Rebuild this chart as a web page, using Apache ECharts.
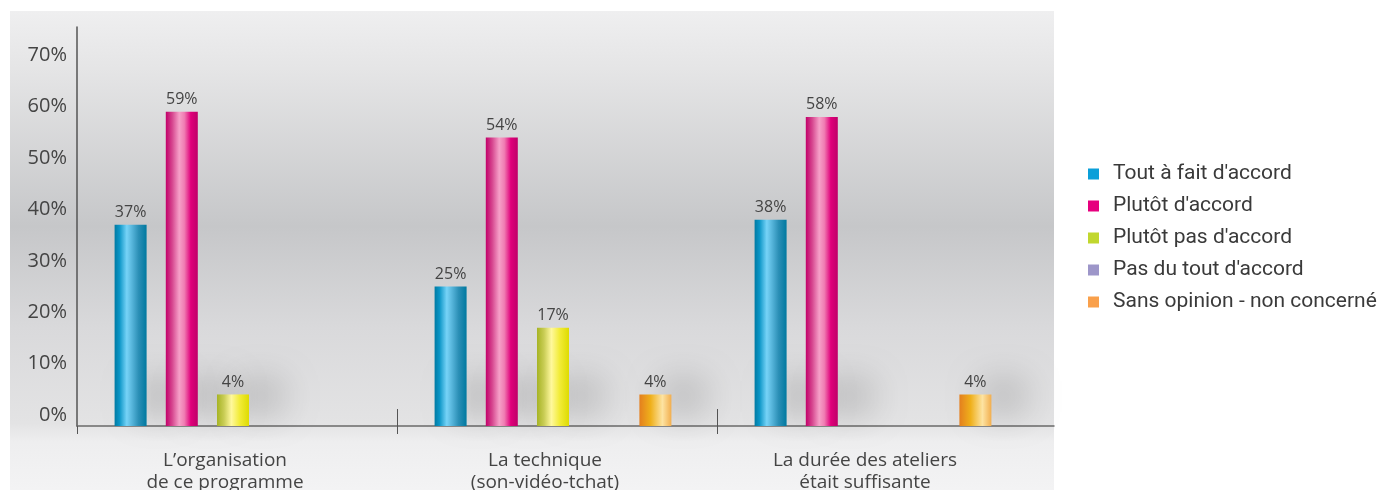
<!DOCTYPE html>
<html>
<head>
<meta charset="utf-8">
<script src="https://cdn.jsdelivr.net/npm/echarts@6/dist/echarts.min.js"></script>
<style>
    html, body { margin: 0; padding: 0; background: #fff; }
    #chart { width: 1382px; height: 490px; }
</style>
</head>
<body>
<div id="chart"></div>
<script>
    // axe des catégories
    const categories = [
        'L’organisation\nde ce programme',
        'La technique\n(son-vidéo-tchat)',
        'La durée des ateliers\nétait suffisante'
    ];
    const names = [
        "Tout à fait d'accord",
        "Plutôt d'accord",
        "Plutôt pas d'accord",
        "Pas du tout d'accord",
        'Sans opinion - non concerné'
    ];
    // valeurs (%)
    const toutAFait = [37, 25, 38];
    const plutot = [59, 54, 58];
    const plutotPas = [4, 17, null];
    const pasDuTout = [null, null, null];
    const sansOpinion = [null, 4, 4];
    const yTicks = [0, 10, 20, 30, 40, 50, 60, 70];

    const values = [toutAFait, plutot, plutotPas, pasDuTout, sansOpinion];

    // axe Y : le pied des barres descend un peu sous 0
    const yMin = -2.14;
    const yMax = 75.5;

    const legendColors = ['#0a9fd9', '#e6007e', '#c1d72e', '#9d96c9', '#f9a04b'];
    const barStops = [
        [[0, '#007aa3'], [0.15, '#0a95c6'], [0.38, '#76d3f7'], [0.55, '#55b4da'], [0.75, '#2b8fb6'], [1, '#0079a0']],
        [[0, '#c2006a'], [0.2, '#d6468f'], [0.42, '#f6a0c8'], [0.58, '#f07cb2'], [0.78, '#e0007b'], [1, '#bf0068']],
        [[0, '#a6b324'], [0.22, '#c9cd55'], [0.45, '#fff89c'], [0.7, '#f2ec3a'], [1, '#dedb00']],
        [[0, '#7e77b3'], [0.4, '#c6c1e6'], [1, '#8a83bd']],
        [[0, '#e47f1e'], [0.35, '#efb01b'], [0.72, '#fde3a2'], [1, '#f2ae4e']]
    ];

    const gradient = i => new echarts.graphic.LinearGradient(0, 0, 1, 0,
        barStops[i].map(s => ({ offset: s[0], color: s[1] })));

    const barBase = {
        type: 'bar',
        xAxisIndex: 0,
        yAxisIndex: 0,
        barWidth: 32,
        barGap: '60%'
    };

    // pieds des barres (sous la ligne 0), qui portent l'ombre floue
    const feet = values.map((data, i) => ({
        ...barBase,
        name: names[i],
        stack: 's' + i,
        silent: true,
        itemStyle: {
            color: gradient(i),
            shadowColor: 'rgba(0,0,0,0.8)',
            shadowBlur: 40,
            shadowOffsetX: 28,
            shadowOffsetY: -24
        },
        data: data.map(v => (v == null ? null : yMin))
    }));

    const bars = values.map((data, i) => ({
        ...barBase,
        name: names[i],
        stack: 's' + i,
        itemStyle: { color: gradient(i) },
        label: {
            show: true,
            position: 'top',
            distance: 4,
            formatter: '{c}%',
            fontFamily: 'Open Sans',
            fontSize: 16,
            color: '#444'
        },
        data
    }));

    const chart = echarts.init(document.getElementById('chart'));
    chart.setOption({
        animation: false,
        graphic: [{
            type: 'rect',
            z: -10,
            shape: { x: 10, y: 11, width: 1044, height: 479 },
            style: {
                fill: new echarts.graphic.LinearGradient(0, 0, 0, 1, [
                    { offset: 0, color: '#efeff0' },
                    { offset: 0.12, color: '#e5e5e6' },
                    { offset: 0.45, color: '#c6c7c9' },
                    { offset: 0.66, color: '#d9d9db' },
                    { offset: 0.86, color: '#e3e3e4' },
                    { offset: 0.9, color: '#eeeeef' },
                    { offset: 1, color: '#f3f3f4' }
                ])
            }
        }],
        legend: {
            data: names.map((n, i) => ({ name: n, itemStyle: { color: legendColors[i] } })),
            orient: 'vertical',
            left: 1083,
            top: 158,
            icon: 'rect',
            itemWidth: 11,
            itemHeight: 11,
            itemGap: 10,
            textStyle: {
                fontFamily: 'Roboto',
                fontSize: 21,
                lineHeight: 22,
                color: '#3a3a3a',
                padding: [0, 0, 0, 9]
            }
        },
        grid: [
            { left: 73, top: 27, width: 960, height: 399, outerBoundsMode: 'none', containLabel: false },
            { left: 77, top: 27, width: 977, height: 399, outerBoundsMode: 'none', containLabel: false }
        ],
        xAxis: [
            {
                type: 'category',
                gridIndex: 0,
                position: 'bottom',
                data: categories,
                axisLine: { show: false, onZero: false },
                axisTick: { show: false },
                axisLabel: {
                    margin: 24,
                    fontFamily: 'Open Sans',
                    fontSize: 19,
                    lineHeight: 22,
                    color: '#444',
                    padding: [0, 16, 0, 0]
                }
            },
            {
                type: 'value',
                gridIndex: 1,
                position: 'bottom',
                min: 0,
                max: 3.053,
                splitLine: { show: false },
                axisLine: { show: true, onZero: false, lineStyle: { color: '#6a6a6a', width: 1.5 } },
                axisTick: { show: true, length: 8, customValues: [0, 1, 2], lineStyle: { color: '#555', width: 1 } },
                axisLabel: { show: false }
            },
            {
                type: 'value',
                gridIndex: 1,
                position: 'bottom',
                min: 0,
                max: 3.053,
                splitLine: { show: false },
                axisLine: { show: false, onZero: false },
                axisTick: { show: true, inside: true, length: 17, customValues: [1, 2], lineStyle: { color: '#555', width: 1 } },
                axisLabel: { show: false }
            }
        ],
        yAxis: [
            {
                type: 'value',
                gridIndex: 0,
                min: yMin,
                max: yMax,
                show: false,
                splitLine: { show: false }
            },
            {
                type: 'value',
                gridIndex: 1,
                min: yMin,
                max: yMax,
                splitLine: { show: false },
                axisLine: { show: true, onZero: false, lineStyle: { color: '#555', width: 1.5 } },
                axisTick: { show: false },
                axisLabel: {
                    customValues: yTicks,
                    formatter: '{value}%',
                    margin: 10,
                    fontFamily: 'Open Sans',
                    fontSize: 20,
                    color: '#444'
                }
            }
        ],
        series: [...feet, ...bars]
    });
</script>
</body>
</html>
